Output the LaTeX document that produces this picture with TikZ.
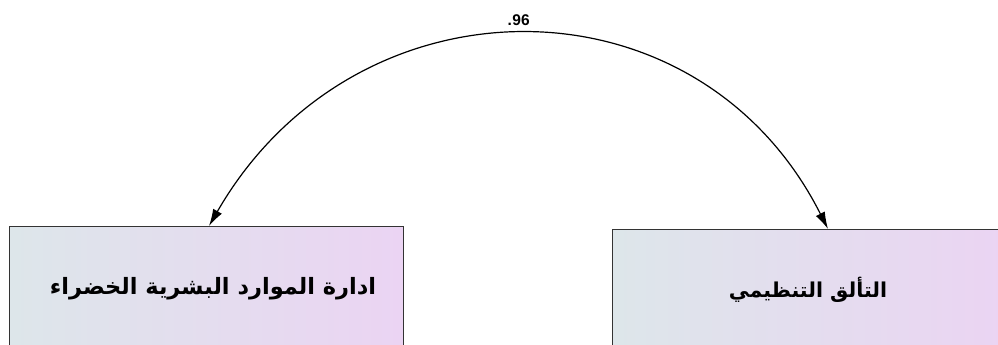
\documentclass[tikz,border=0pt]{standalone}
\usepackage{fontspec}
\setmainfont{Liberation Sans}
\newfontfamily\arabicfont[Script=Arabic]{DejaVu Sans}
\TeXXeTstate=1
\usetikzlibrary{arrows.meta,calc}
\definecolor{boxleft}{HTML}{DDE6EA}
\definecolor{boxright}{HTML}{EBD4F3}
\definecolor{boxedge}{HTML}{333333}
\tikzset{
  varbox/.style={draw=boxedge, line width=1.3pt, rectangle, minimum width=394pt, minimum height=180pt, anchor=north west, inner sep=0pt, left color=boxleft, right color=boxright},
  vartext/.style={font=\arabicfont\bfseries, inner sep=0pt},
  covarrow/.style={line width=1.2pt, {Latex[length=17pt,width=10pt]}-{Latex[length=17pt,width=10pt]}},
  coeftext/.style={font=\bfseries\fontsize{15.5}{18}\selectfont, inner sep=0pt}
}
\begin{document}
\begin{tikzpicture}[x=1pt,y=-1pt]
\useasboundingbox (0,0) rectangle (998,345);
\node[coeftext, anchor=base] (c) at (521,25.5) {96};
\node[coeftext, anchor=base east] (cdot) at (c.base west) {.};
\node[varbox] (hr) at (9,226) {};
\node[varbox] (org) at (612,229) {};
\node[vartext] (hrt) at (213,289) {\fontsize{22.5}{26}\selectfont\beginR ادارة الموارد البشرية الخضراء\endR};
\node[vartext] (orgt) at (808,290) {\fontsize{20.5}{24}\selectfont\beginR التألق التنظيمي\endR};
\coordinate (la) at ($(hr.north west)+(200,0)$);
\coordinate (ra) at ($(org.north west)+(216,0)$);
\draw[covarrow] (la) .. controls (356,-29) and (698,-29) .. (ra);
\end{tikzpicture}
\end{document}
